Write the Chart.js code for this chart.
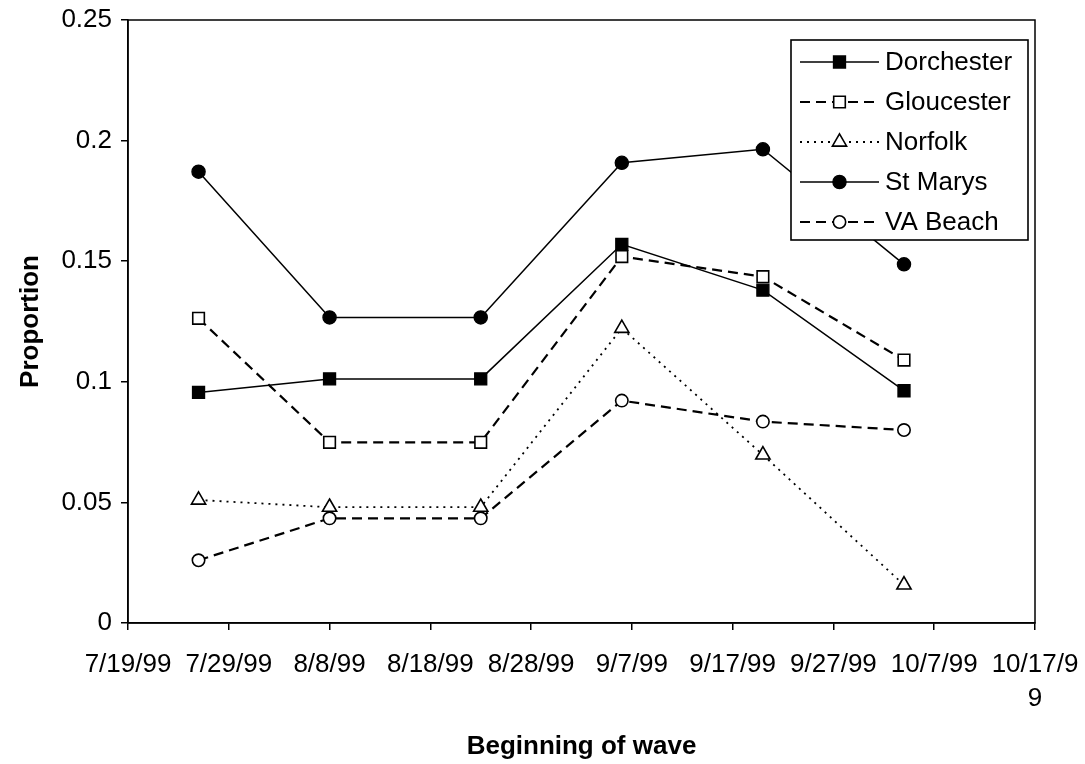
<!DOCTYPE html>
<html>
<head>
<meta charset="utf-8">
<title>Proportion by beginning of wave</title>
<script src="https://cdn.jsdelivr.net/npm/chart.js@4/dist/chart.umd.min.js"></script>
<style>
  html, body { margin: 0; padding: 0; background: #fff; }
  #wrap { width: 1085px; height: 764px; }
</style>
</head>
<body>
<div id="wrap"><canvas id="chart" width="1085" height="764"></canvas></div>
<script>
// Survey waves: start date of each wave
const waveDates = ['7/26/99', '8/8/99', '8/23/99', '9/6/99', '9/20/99', '10/4/99'];

// Proportion per site at each wave
const dorchester = [0.0956, 0.1012, 0.1012, 0.1570, 0.1380, 0.0963];
const gloucester = [0.1263, 0.0749, 0.0749, 0.1519, 0.1436, 0.1090];
const norfolk    = [0.0510, 0.0480, 0.0480, 0.1222, 0.0697, 0.0158];
const stMarys    = [0.1871, 0.1267, 0.1267, 0.1908, 0.1964, 0.1487];
const vaBeach    = [0.0260, 0.0434, 0.0434, 0.0922, 0.0835, 0.0800];

const siteNames = ['Dorchester', 'Gloucester', 'Norfolk', 'St Marys', 'VA Beach'];

// Axis tick labels (date axis every 10 days from 7/19/99)
const xTickLabels = ['7/19/99', '7/29/99', '8/8/99', '8/18/99', '8/28/99', '9/7/99',
                     '9/17/99', '9/27/99', '10/7/99', ['10/17/9', '9']];
const yTickLabels = ['0', '0.05', '0.1', '0.15', '0.2', '0.25'];

const axisStart = '7/19/99';
const axisDays = 90;
const tickDays = 10;

// day offset of an m/d/yy date from the axis start
function dayOffset(s) {
  const p = s.split('/').map(Number);
  const q = axisStart.split('/').map(Number);
  const a = Date.UTC(1900 + p[2], p[0] - 1, p[1]);
  const b = Date.UTC(1900 + q[2], q[0] - 1, q[1]);
  return Math.round((a - b) / 86400000);
}
const waveDays = waveDates.map(dayOffset);
const series = (vals) => vals.map((v, i) => ({ x: waveDays[i], y: v }));

const FONT = "'Liberation Sans', Arial, sans-serif";

const styles = [
  { data: dorchester, dash: [],      width: 1.5, point: 'rect',     r: 8.5, fill: '#000', pbw: 1.3 },
  { data: gloucester, dash: [10, 6], width: 2.2, point: 'rect',     r: 8.2, fill: '#fff', pbw: 1.6 },
  { data: norfolk,    dash: [2, 5],  width: 1.8, point: 'triangle', r: 8.2, fill: '#fff', pbw: 1.6 },
  { data: stMarys,    dash: [],      width: 1.5, point: 'circle',   r: 6.6, fill: '#000', pbw: 1.3 },
  { data: vaBeach,    dash: [10, 6], width: 2.2, point: 'circle',   r: 6.2, fill: '#fff', pbw: 1.6 }
];

const datasets = styles.map((s, i) => ({
  label: siteNames[i],
  data: series(s.data),
  borderColor: '#000',
  borderWidth: s.width,
  borderDash: s.dash,
  pointStyle: s.point,
  pointRadius: s.r,
  pointHoverRadius: s.r,
  pointBackgroundColor: s.fill,
  pointBorderColor: '#000',
  pointBorderWidth: s.pbw,
  tension: 0,
  fill: false
}));

// Plot frame and the boxed key with line samples
const frameAndKey = {
  id: 'frameAndKey',
  beforeDatasetsDraw(chart) {
    const { ctx, chartArea: a } = chart;
    ctx.save();
    ctx.strokeStyle = '#000';
    ctx.lineWidth = 1.5;
    ctx.strokeRect(a.left, a.top, a.right - a.left, a.bottom - a.top);
    ctx.restore();
  },
  afterDatasetsDraw(chart) {
    const { ctx } = chart;
    const box = { left: 791, top: 40, right: 1028, bottom: 240 };
    ctx.save();
    ctx.fillStyle = '#fff';
    ctx.fillRect(box.left, box.top, box.right - box.left, box.bottom - box.top);
    ctx.strokeStyle = '#000';
    ctx.lineWidth = 1.6;
    ctx.strokeRect(box.left, box.top, box.right - box.left, box.bottom - box.top);

    chart.data.datasets.forEach((ds, i) => {
      const y = box.top + 22 + i * 40;
      const x1 = box.left + 9, x2 = box.left + 88, cx = (x1 + x2) / 2;
      ctx.setLineDash(ds.borderDash || []);
      ctx.lineWidth = ds.borderWidth;
      ctx.strokeStyle = '#000';
      ctx.beginPath();
      ctx.moveTo(x1, y);
      ctx.lineTo(x2, y);
      ctx.stroke();
      ctx.setLineDash([]);
      ctx.fillStyle = ds.pointBackgroundColor;
      ctx.strokeStyle = ds.pointBorderColor;
      ctx.lineWidth = ds.pointBorderWidth;
      Chart.helpers.drawPoint(ctx, {
        pointStyle: ds.pointStyle,
        radius: ds.pointRadius,
        borderWidth: ds.pointBorderWidth,
        rotation: 0
      }, cx, y);
      ctx.fillStyle = '#000';
      ctx.font = '26px ' + FONT;
      ctx.textBaseline = 'middle';
      ctx.textAlign = 'left';
      ctx.fillText(ds.label, box.left + 94, y + 1);
    });
    ctx.restore();
  }
};

new Chart(document.getElementById('chart'), {
  type: 'line',
  data: { datasets },
  options: {
    responsive: false,
    animation: false,
    events: [],
    layout: { padding: { top: 20, right: 50, left: 0, bottom: 0 } },
    plugins: {
      legend: { display: false },
      tooltip: { enabled: false }
    },
    scales: {
      x: {
        type: 'linear',
        position: 'bottom',
        min: 0,
        max: axisDays,
        afterFit(scale) {
          scale.height = 141;
          scale.paddingLeft = 0;
          scale.paddingRight = 0;
        },
        ticks: {
          stepSize: tickDays,
          autoSkip: false,
          maxRotation: 0,
          minRotation: 0,
          padding: 18,
          color: '#000',
          font: { family: FONT, size: 26, lineHeight: 1.3 },
          callback: (v, i) => xTickLabels[i]
        },
        grid: {
          drawOnChartArea: false,
          drawTicks: true,
          tickLength: 7,
          color: '#000',
          lineWidth: 1.5
        },
        border: { display: true, color: '#000', width: 1.5 },
        title: {
          display: true,
          text: 'Beginning of wave',
          color: '#000',
          font: { family: FONT, size: 26, weight: 'bold' },
          padding: { top: 0, bottom: 2 }
        }
      },
      y: {
        min: 0,
        max: 0.25,
        afterFit(scale) {
          scale.width = 128;
          scale.paddingTop = 0;
          scale.paddingBottom = 0;
        },
        ticks: {
          stepSize: 0.05,
          padding: 9,
          color: '#000',
          font: { family: FONT, size: 26 },
          callback: (v, i) => yTickLabels[i]
        },
        grid: {
          drawOnChartArea: false,
          drawTicks: true,
          tickLength: 7,
          color: '#000',
          lineWidth: 1.5
        },
        border: { display: true, color: '#000', width: 1.5 },
        title: {
          display: true,
          text: 'Proportion',
          color: '#000',
          font: { family: FONT, size: 26, weight: 'bold' },
          padding: { top: 15, bottom: 0 }
        }
      }
    }
  },
  plugins: [frameAndKey]
});
</script>
</body>
</html>
